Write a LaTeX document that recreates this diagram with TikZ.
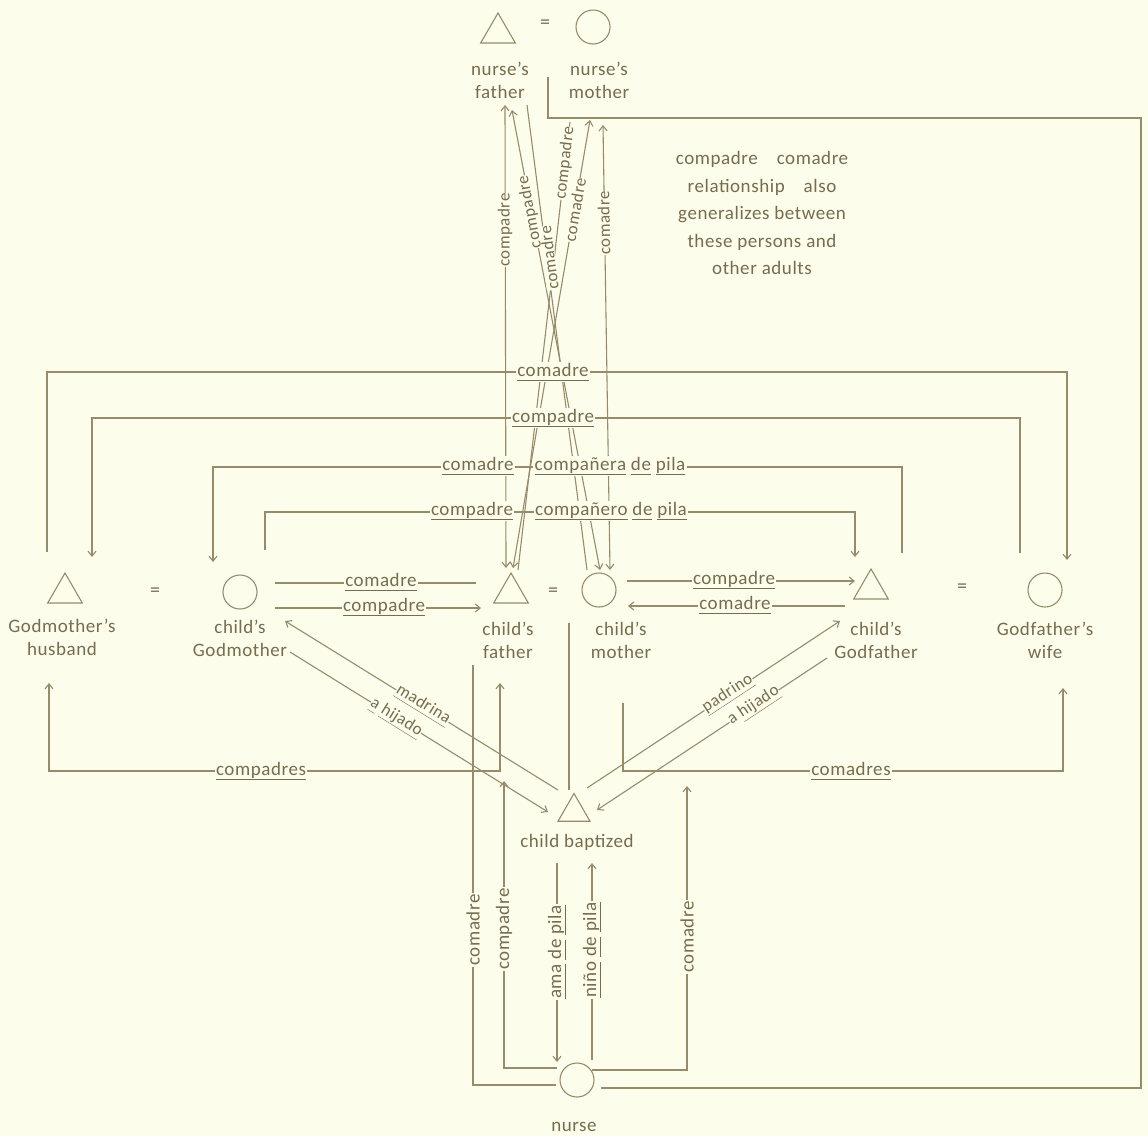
\documentclass[tikz,border=0pt]{standalone}
\usepackage{fontspec}
\setmainfont{Carlito}[LetterSpace=3]
\usetikzlibrary{arrows.meta,shapes.geometric}
\definecolor{bg}{RGB}{253,253,236}
\definecolor{ink}{RGB}{150,140,108}
\definecolor{txt}{RGB}{118,108,78}
\newcommand\ulw[1]{\underline{#1\vphantom{p}}}
\begin{document}
\begin{tikzpicture}[x=1pt,y=-1pt,
  ln/.style={draw=ink,line width=1.1pt},
  >={Straight Barb[length=5pt,width=8pt]},
  lab/.style={fill=bg,inner sep=1.2pt,text=txt,font=\fontsize{19}{22}\selectfont},
  slab/.style={lab,inner sep=0.3pt,font=\fontsize{17}{20}\selectfont},
  nmtext/.style={text=txt,align=center,font=\fontsize{19}{23}\selectfont,inner sep=0pt},
  tri/.style={regular polygon,regular polygon sides=3,draw=ink,line width=1.1pt,minimum size=40pt,inner sep=0pt},
  cir/.style={circle,draw=ink,line width=1.1pt,minimum size=34pt,inner sep=0pt},
  eqs/.style={text=txt,font=\fontsize{20}{20}\selectfont,inner sep=0pt}
]
\fill[bg] (0,0) rectangle (1148,1136);
\useasboundingbox (0,0) rectangle (1148,1136);

% ---------- persons ----------
\node[tri] (nfa) at (498,33) {};
\node[eqs] (eq0) at (545,24) {=};
\node[cir] (nmo) at (593,27) {};
\node[nmtext] (nfat) at (500,80) {nurse's\\father};
\node[nmtext] (nmot) at (599,80) {nurse's\\mother};

\node[tri] (gmh) at (65,593) {};
\node[nmtext] (gmht) at (62,637) {Godmother's\\husband};
\node[eqs] (eq1) at (155,592) {=};
\node[cir] (gmo) at (240,592) {};
\node[nmtext] (gmot) at (240,638) {child's\\Godmother};
\node[tri] (cfa) at (511,593) {};
\node[nmtext] (cfat) at (508,640) {child's\\father};
\node[eqs] (eq2) at (553,592) {=};
\node[cir] (cmo) at (599,590) {};
\node[nmtext] (cmot) at (621,640) {child's\\mother};
\node[tri] (cgf) at (871,589) {};
\node[nmtext] (cgft) at (876,640) {child's\\Godfather};
\node[eqs] (eq3) at (962,588) {=};
\node[cir] (gfw) at (1045,590) {};
\node[nmtext] (gfwt) at (1045,640) {Godfather's\\wife};
\node[tri,minimum size=37pt] (cbp) at (574,812) {};
\node[nmtext] (cbpt) at (577,842) {child baptized};
\node[cir] (nur) at (577,1080) {};
\node[nmtext] (nurt) at (574,1127) {nurse};

\node[text=txt,align=center,font=\fontsize{19}{27.5}\selectfont] (note) at (762,213)
  {compadre\quad comadre\\relationship\quad also\\generalizes between\\these persons and\\other adults};

% ---------- level coordinates ----------
\coordinate (lv1) at (0,372);
\coordinate (lv2) at (0,418);
\coordinate (lv3) at (0,467);
\coordinate (lv4) at (0,512);
\coordinate (lvb) at (0,771);

% ---------- connector end points ----------
\coordinate (r1a) at (47,552);   \coordinate (r1b) at (1067,560);
\coordinate (r2a) at (1020,553); \coordinate (r2b) at (92,557);
\coordinate (r3a) at (902,553);  \coordinate (r3b) at (213,562);
\coordinate (r4a) at (265,550);  \coordinate (r4b) at (855,557);

\coordinate (h1a) at (275,583); \coordinate (h1b) at (476,583);
\coordinate (h2a) at (275,608); \coordinate (h2b) at (481,608);
\coordinate (h3a) at (627,581); \coordinate (h3b) at (855,581);
\coordinate (h4a) at (845,606); \coordinate (h4b) at (628,606);

\coordinate (v1a) at (505,105); \coordinate (v1b) at (506,568);
\coordinate (v2a) at (512,110); \coordinate (v2b) at (600,570);
\coordinate (v3a) at (527,105); \coordinate (v3b) at (587,570);
\coordinate (v4a) at (570,122); \coordinate (v4b) at (518,570);
\coordinate (v5a) at (590,120); \coordinate (v5b) at (513,568);
\coordinate (v6a) at (603,125); \coordinate (v6b) at (610,570);

\coordinate (dsa) at (569,623); \coordinate (dsb) at (569,790);
\coordinate (d1a) at (285,621); \coordinate (d1b) at (558,790);
\coordinate (d2a) at (290,652); \coordinate (d2b) at (548,812);
\coordinate (d3a) at (587,788); \coordinate (d3b) at (840,621);
\coordinate (d4a) at (827,658); \coordinate (d4b) at (597,810);

\coordinate (b1a) at (49,683);  \coordinate (b1b) at (500,683);
\coordinate (b2a) at (623,703); \coordinate (b2b) at (1063,688);

\coordinate (n1a) at (473,665); \coordinate (n1b) at (556,1085);
\coordinate (n2a) at (557,1068); \coordinate (n2b) at (504,781);
\coordinate (n3a) at (557,863); \coordinate (n3b) at (557,1062);
\coordinate (n4a) at (592,1060); \coordinate (n4b) at (592,863);
\coordinate (n5a) at (592,1070); \coordinate (n5b) at (687,786);
\coordinate (lpa) at (601,1088); \coordinate (lpb) at (548,77);

% ---------- connectors ----------
\draw[ln,->] (r1a) -- (r1a |- lv1) -| (r1b);
\draw[ln,->] (r2a) -- (r2a |- lv2) -| (r2b);
\draw[ln,->] (r3a) -- (r3a |- lv3) -| (r3b);
\draw[ln,->] (r4a) -- (r4a |- lv4) -| (r4b);

\draw[ln] (h1a) -- (h1b);
\draw[ln,->] (h2a) -- (h2b);
\draw[ln,->] (h3a) -- (h3b);
\draw[ln,->] (h4a) -- (h4b);

\draw[ln,<->] (v1a) -- (v1b);
\draw[ln,<->] (v2a) -- (v2b);
\draw[ln] (v3a) -- (v3b);
\draw[ln] (v4a) -- (v4b);
\draw[ln,<->] (v5a) -- (v5b);
\draw[ln,<->] (v6a) -- (v6b);

\draw[ln] (dsa) -- (dsb);
\draw[ln,<-] (d1a) -- (d1b);
\draw[ln,->] (d2a) -- (d2b);
\draw[ln,->] (d3a) -- (d3b);
\draw[ln,->] (d4a) -- (d4b);

\draw[ln,<->] (b1a) -- (b1a |- lvb) -| (b1b);
\draw[ln,->] (b2a) -- (b2a |- lvb) -| (b2b);

\draw[ln] (n1a) |- (n1b);
\draw[ln,->] (n2a) -| (n2b);
\draw[ln,->] (n3a) -- (n3b);
\draw[ln,->] (n4a) -- (n4b);
\draw[ln,->] (n5a) -| (n5b);
\draw[ln] (lpa) -- (1141,1088) -- (1141,118) -- (548,118) -- (lpb);

% ---------- labels ----------
\node[lab] (t1) at (553,372) {\ulw{comadre}};
\node[lab] (t2) at (553,418) {\ulw{compadre}};
\node[lab] (t3) at (478,466) {\ulw{comadre}};
\node[lab] (t4) at (610,466) {\ulw{compañera} \ulw{de} \ulw{pila}};
\node[lab] (t5) at (472,511) {\ulw{compadre}};
\node[lab] (t6) at (611,511) {\ulw{compañero} \ulw{de} \ulw{pila}};

\node[lab] (t7) at (381,582) {\ulw{comadre}};
\node[lab] (t8) at (384,607) {\ulw{compadre}};
\node[lab] (t9) at (734,580) {\ulw{compadre}};
\node[lab] (t10) at (735,605) {\ulw{comadre}};

\node[slab,rotate=90] (t11) at (505,230) {compadre};
\node[slab,rotate=100.8] (t12) at (530,212) {compadre};
\node[slab,rotate=97.4] (t13) at (549,258) {comadre};
\node[slab,rotate=83.4] (t14) at (565,163) {compadre};
\node[slab,rotate=80.2] (t15) at (575,210) {comadre};
\node[slab,rotate=90.9] (t16) at (604,223) {comadre};

\node[slab,rotate=-31.8] (t17) at (423,705) {\ulw{madrina}};
\node[slab,rotate=-31.8] (t18) at (396,718) {\ulw{a} \ulw{hijado}};
\node[slab,rotate=33.4] (t19) at (728,694) {\ulw{padrino}};
\node[slab,rotate=33.5] (t20) at (754,706) {a \ulw{hijado}};

\node[lab] (t21) at (261,771) {\ulw{compadres}};
\node[lab] (t22) at (851,771) {\ulw{comadres}};

\node[lab,rotate=90] (t23) at (473,930) {comadre};
\node[lab,rotate=90] (t24) at (504,929) {compadre};
\node[lab,rotate=90] (t25) at (557,952) {\ulw{ama} \ulw{de} \ulw{pila}};
\node[lab,rotate=90] (t26) at (592,950) {\ulw{niño} \ulw{de} \ulw{pila}};
\node[lab,rotate=90] (t27) at (687,937) {comadre};
\end{tikzpicture}
\end{document}
